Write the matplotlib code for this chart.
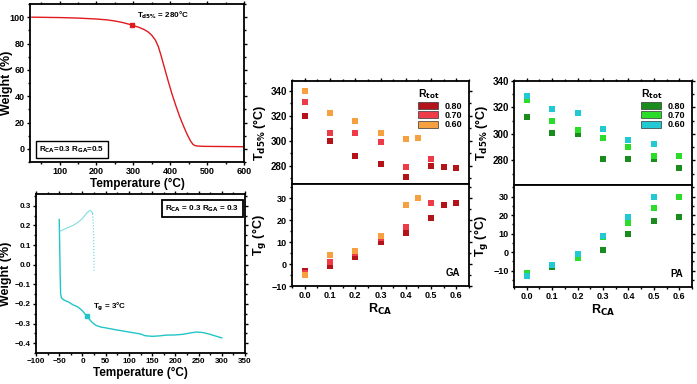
import matplotlib
matplotlib.use("Agg")
from matplotlib import pyplot as plt
from matplotlib.patches import Patch
from matplotlib.ticker import MultipleLocator

plt.rcParams['font.family'] = ['Liberation Sans', 'DejaVu Sans']
plt.rcParams['font.weight'] = 'bold'
plt.rcParams['axes.labelweight'] = 'bold'
plt.rcParams['mathtext.default'] = 'bf'

# TGA curve (R_CA=0.3, R_GA=0.5)
tga_temp = [25, 50, 100, 150, 200, 230, 250, 270, 290, 300, 315, 330, 340, 350, 360,
            368, 375, 385, 395, 405, 415, 425, 435, 445, 455, 462, 468, 475, 490, 520, 560, 600]
tga_weight = [100, 99.9, 99.7, 99.3, 98.6, 97.9, 97.1, 96.0, 94.5, 93.6, 92.3, 90.5, 88.8, 86.3, 82.5,
              77.5, 71.0, 61.0, 51.0, 41.5, 33.0, 25.0, 18.0, 11.5, 6.0, 3.3, 2.4, 2.1, 1.9, 1.8, 1.7, 1.6]
td5_point = (297, 93.8)

# DSC curve (R_CA=0.3, R_GA=0.3)
dsc_main_t = [-50, -49, -48, -47, -45, -40, -30, -20, -10, 0, 5, 10, 15, 20, 25, 30, 40, 50,
              75, 100, 115, 125, 135, 150, 165, 180, 200, 215, 230, 245, 260, 275, 290, 300]
dsc_main_w = [0.23, 0.10, -0.05, -0.15, -0.17, -0.18, -0.19, -0.205, -0.215, -0.235, -0.25, -0.262,
              -0.278, -0.292, -0.302, -0.31, -0.318, -0.322, -0.333, -0.343, -0.349, -0.353,
              -0.362, -0.365, -0.363, -0.359, -0.358, -0.355, -0.349, -0.343, -0.346, -0.355,
              -0.366, -0.373]
dsc_cool_t = [-48, -40, -30, -20, -10, 0, 5, 10, 15, 18, 20, 22]
dsc_cool_w = [0.17, 0.18, 0.19, 0.20, 0.215, 0.235, 0.25, 0.265, 0.275, 0.275, 0.27, 0.26]
dsc_dot_t = [22, 23, 24, 24.5, 25, 25]
dsc_dot_w = [0.26, 0.22, 0.15, 0.08, 0.02, -0.03]
tg_point = (10, -0.262)

# R_tot series
r_tot = ["0.80", "0.70", "0.60"]

# GA
ga_x = [[0.0, 0.1, 0.2, 0.3, 0.4, 0.5, 0.55, 0.6],
        [0.0, 0.1, 0.2, 0.3, 0.4, 0.5],
        [0.0, 0.1, 0.2, 0.3, 0.4, 0.45]]
ga_td5 = [[320, 300, 288, 281, 271, 280, 279, 278],
          [331, 306, 306, 299, 279, 285],
          [340, 322, 316, 306, 301, 302]]
ga_tg = [[-3, -1, 3, 10, 14, 21, 27, 28],
         [-4, 1, 5, 12, 17, 28],
         [-5, 4, 6, 13, 27, 30]]
ga_colors = ["#b3141a", "#ee3b48", "#f7a040"]

# PA
pa_x = [[0.0, 0.1, 0.2, 0.3, 0.4, 0.5, 0.6],
        [0.0, 0.1, 0.2, 0.3, 0.4, 0.5, 0.6],
        [0.0, 0.1, 0.2, 0.3, 0.4, 0.5]]
pa_td5 = [[313, 301, 300, 281, 281, 281, 274],
          [326, 310, 303, 297, 290, 283, 283],
          [329, 319, 316, 304, 295, 292]]
pa_tg = [[-11, -8, -2, 1, 10, 17, 19],
         [-11, -7, -3, 8, 16, 24, 30],
         [-13, -7, -1, 9, 19, 30]]
pa_colors = ["#1a8c1e", "#2bdc2b", "#22c8d2"]

W, H = 697, 384
fig = plt.figure(figsize=(W / 100, H / 100), dpi=100)


def box(x0, y0, x1, y1):
    # pixel box -> figure fraction
    return [x0 / W, 1 - y1 / H, (x1 - x0) / W, (y1 - y0) / H]


def style(ax, size=6.5, top=True, bottom=True):
    for s in ax.spines.values():
        s.set_linewidth(1.3)
    ax.tick_params(which='both', direction='out', labelsize=size, width=1.0,
                   top=top, right=True, bottom=bottom)
    ax.tick_params(which='major', length=2.5, pad=1.2)
    ax.tick_params(which='minor', length=1.5)
    for lab in ax.get_xticklabels() + ax.get_yticklabels():
        lab.set_fontweight('bold')


# top-left: TGA
ax1 = fig.add_axes(box(30, 4, 244, 162))
ax1.plot(tga_temp, tga_weight, color="#e01a1f", lw=1.0)
ax1.plot(*td5_point, 's', color="#e01a1f", ms=2.5)
ax1.text(td5_point[0] + 12, td5_point[1] + 6, r"T$_{d5\%}$ = 280°C", fontsize=5.8)
ax1.text(45, -0.5, r"R$_{CA}$=0.3 R$_{GA}$=0.5", fontsize=5.8, va='center',
         bbox=dict(boxstyle='square,pad=0.4', fc='white', ec='black', lw=1.0))
ax1.set_xlim(20, 600)
ax1.set_ylim(-10, 110)
ax1.xaxis.set_minor_locator(MultipleLocator(50))
ax1.yaxis.set_major_locator(MultipleLocator(20))
ax1.yaxis.set_minor_locator(MultipleLocator(10))
ax1.set_xticks([100, 200, 300, 400, 500, 600])
ax1.set_xlabel("Temperature (°C)", fontsize=8.5, labelpad=1)
ax1.set_ylabel("Weight (%)", fontsize=9)
ax1.yaxis.set_label_coords(-0.08, 0.5)
style(ax1, size=6.5)

# bottom-left: DSC
ax2 = fig.add_axes(box(36, 194, 245, 353))
ax2.plot(dsc_main_t, dsc_main_w, color="#22c5c8", lw=1.0)
ax2.plot(dsc_cool_t, dsc_cool_w, color="#7fdede", lw=0.8)
ax2.plot(dsc_dot_t, dsc_dot_w, color="#55d3d6", lw=0.8, ls=':')
ax2.plot(*tg_point, 's', color="#22c5c8", ms=2.5)
ax2.text(tg_point[0] + 12, tg_point[1] + 0.04, r"T$_g$ = 3°C", fontsize=5.8)
ax2.text(338, 0.285, r"R$_{CA}$ = 0.3 R$_{GA}$ = 0.3", fontsize=5.8, ha='right', va='center',
         bbox=dict(boxstyle='square,pad=0.4', fc='white', ec='black', lw=1.3))
ax2.set_xlim(-100, 350)
ax2.set_ylim(-0.45, 0.36)
ax2.xaxis.set_major_locator(MultipleLocator(50))
ax2.xaxis.set_minor_locator(MultipleLocator(25))
ax2.yaxis.set_major_locator(MultipleLocator(0.1))
ax2.yaxis.set_minor_locator(MultipleLocator(0.05))
ax2.set_xlabel("Temperature (°C)", fontsize=8.5, labelpad=1)
ax2.set_ylabel("Weight (%)", fontsize=9)
ax2.yaxis.set_label_coords(-0.114, 0.5)
style(ax2, size=5.8)


def panel(x0, x1, ytop, ymid, ybot, xs, td5, tg, colors, td_lim, tg_lim, tag):
    at = fig.add_axes(box(x0, ytop, x1, ymid))
    ab = fig.add_axes(box(x0, ymid, x1, ybot))
    for x, t, g, c in zip(xs, td5, tg, colors):
        at.scatter(x, t, marker='s', s=13, color=c, lw=0, zorder=3)
        ab.scatter(x, g, marker='s', s=13, color=c, lw=0, zorder=3)
    for a in (at, ab):
        a.set_xlim(-0.05, 0.65)
        a.xaxis.set_major_locator(MultipleLocator(0.1))
        a.xaxis.set_minor_locator(MultipleLocator(0.05))
    at.set_ylim(*td_lim)
    ab.set_ylim(*tg_lim)
    at.yaxis.set_major_locator(MultipleLocator(20))
    at.yaxis.set_minor_locator(MultipleLocator(10))
    ab.yaxis.set_major_locator(MultipleLocator(10))
    ab.yaxis.set_minor_locator(MultipleLocator(5))
    at.tick_params(labelbottom=False)
    style(at, size=7, top=True, bottom=False)
    style(ab, size=6.5, top=False, bottom=True)
    at.set_ylabel(r"T$_{d5\%}$ (°C)", fontsize=9, labelpad=2)
    ab.set_ylabel(r"T$_g$ (°C)", fontsize=9, labelpad=2)
    ab.set_xlabel(r"R$_{CA}$", fontsize=9, labelpad=1)
    ab.set_xticks([0.0, 0.1, 0.2, 0.3, 0.4, 0.5, 0.6])
    ab.set_xticklabels([f"{v:.1f}" for v in [0.0, 0.1, 0.2, 0.3, 0.4, 0.5, 0.6]],
                       fontweight='bold')
    ab.text(0.95, 0.08, tag, transform=ab.transAxes, ha='right', va='bottom', fontsize=7)
    handles = [Patch(fc=c, ec='#333333', lw=0.5) for c in colors]
    leg = at.legend(handles, r_tot, title=r"R$_{tot}$", loc='upper right', frameon=False,
                    fontsize=6.5, title_fontsize=7.5, handlelength=2.2, handleheight=0.8,
                    labelspacing=0.05, borderaxespad=0.3, handletextpad=0.8)
    leg._legend_box.align = "left"
    return at, ab


panel(292, 469, 81, 184, 286, ga_x, ga_td5, ga_tg, ga_colors, (265.4, 347.8), (-10, 36.5), "GA")
panel(514, 692, 81, 185, 287, pa_x, pa_td5, pa_tg, pa_colors, (261.3, 340), (-18.8, 36.3), "PA")

fig.savefig("out.png", dpi=100)
